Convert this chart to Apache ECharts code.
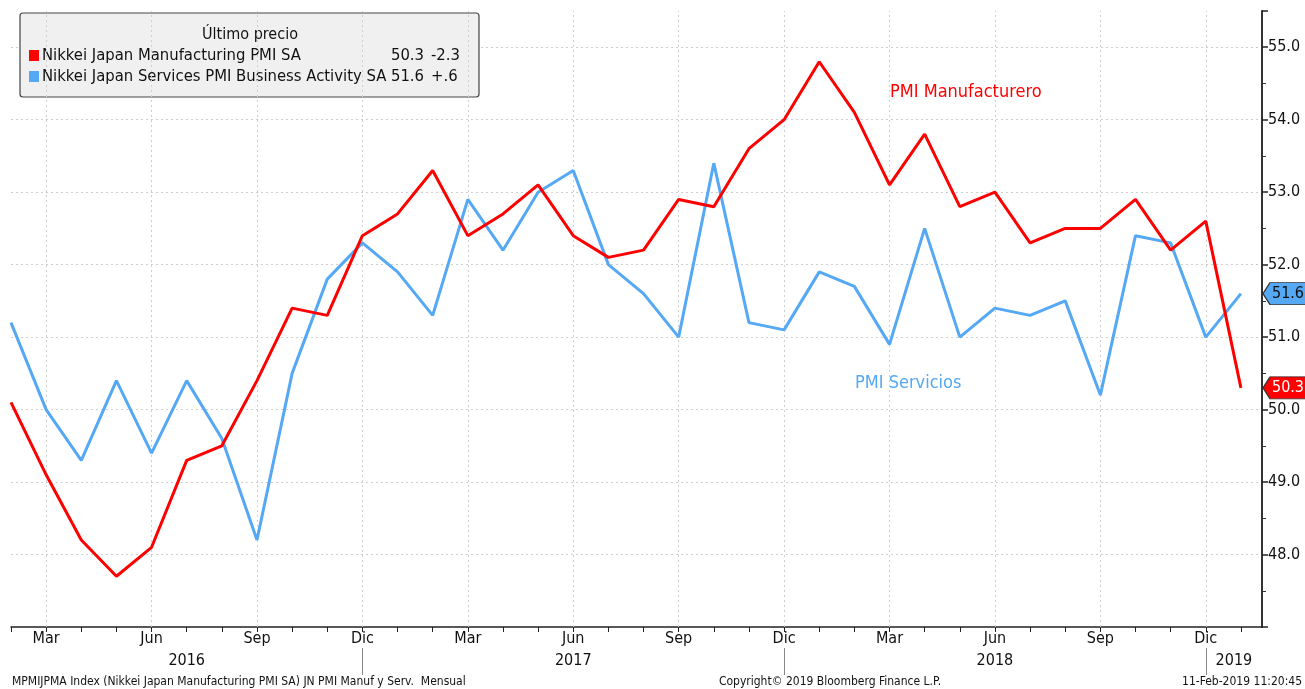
<!DOCTYPE html>
<html><head><meta charset="utf-8">
<script src="https://cdn.jsdelivr.net/npm/echarts@6/dist/echarts.min.js"></script>
<style>html,body{margin:0;padding:0;background:#fff}#c{width:1305px;height:689px}</style>
</head><body><div id="c"></div>
<script>
// ---- data ----
const categories = [
  'Feb 2016','Mar 2016','Abr 2016','May 2016','Jun 2016','Jul 2016','Ago 2016','Sep 2016','Oct 2016','Nov 2016','Dic 2016',
  'Ene 2017','Feb 2017','Mar 2017','Abr 2017','May 2017','Jun 2017','Jul 2017','Ago 2017','Sep 2017','Oct 2017','Nov 2017','Dic 2017',
  'Ene 2018','Feb 2018','Mar 2018','Abr 2018','May 2018','Jun 2018','Jul 2018','Ago 2018','Sep 2018','Oct 2018','Nov 2018','Dic 2018',
  'Ene 2019'
];
const manufacturing = [
  50.1, 49.1, 48.2, 47.7, 48.1, 49.3, 49.5, 50.4, 51.4, 51.3, 52.4,
  52.7, 53.3, 52.4, 52.7, 53.1, 52.4, 52.1, 52.2, 52.9, 52.8, 53.6, 54.0,
  54.8, 54.1, 53.1, 53.8, 52.8, 53.0, 52.3, 52.5, 52.5, 52.9, 52.2, 52.6,
  50.3
];
const services = [
  51.2, 50.0, 49.3, 50.4, 49.4, 50.4, 49.6, 48.2, 50.5, 51.8, 52.3,
  51.9, 51.3, 52.9, 52.2, 53.0, 53.3, 52.0, 51.6, 51.0, 53.4, 51.2, 51.1,
  51.9, 51.7, 50.9, 52.5, 51.0, 51.4, 51.3, 51.5, 50.2, 52.4, 52.3, 51.0,
  51.6
];
const seriesNames = ['Nikkei Japan Manufacturing PMI SA', 'Nikkei Japan Services PMI Business Activity SA'];
const quarterMonths = ['Mar', 'Jun', 'Sep', 'Dic'];
const yearLabels = ['2016', '2017', '2018', '2019'];
const legendTitle = 'Último precio';
const annotations = ['PMI Manufacturero', 'PMI Servicios'];
const footerLeft = 'MPMIJPMA Index (Nikkei Japan Manufacturing PMI SA) JN PMI Manuf y Serv.  Mensual';
const footerCenter = 'Copyright© 2019 Bloomberg Finance L.P.';
const footerRight = '11-Feb-2019 11:20:45';

// ---- styling ----
const RED = '#ff0000', BLUE = '#55a8f4';
const FONT = '"DejaVu Sans Condensed","Liberation Sans Narrow","DejaVu Sans",sans-serif';
const X_MAX = categories.length - 1 + 0.6;
const Y_MIN = 47, Y_MAX = 55.5;

function fmtChange(d) {
  let s = Math.abs(d).toFixed(1);
  if (s.startsWith('0')) s = s.slice(1);
  return (d >= 0 ? '+' : '-') + s;
}
const last = arr => arr[arr.length - 1];
const prev = arr => arr[arr.length - 2];

const tagPath = 'path://M0,11 L7,0 L44,0 L44,22 L7,22 Z';
function tag(arr, fill, txt) {
  return {
    silent: true, z: 10,
    symbol: tagPath, symbolSize: [44, 22], symbolKeepAspect: false,
    symbolOffset: [23, 0],
    itemStyle: { color: fill, borderColor: '#333', borderWidth: 1 },
    label: { show: true, position: 'inside', offset: [3, 0], color: txt, fontFamily: FONT, fontSize: 16,
             formatter: () => last(arr).toFixed(1) },
    data: [{ coord: [X_MAX, last(arr)] }]
  };
}

const quarterIdx = categories.map((c, i) => quarterMonths.includes(c.split(' ')[0]) ? i : -1).filter(i => i >= 0);

const chart = echarts.init(document.getElementById('c'));
chart.setOption({
  backgroundColor: '#fff',
  animation: false,
  grid: { left: 11, right: 43, top: 11, bottom: 62, containLabel: false },
  xAxis: {
    type: 'value', min: 0, max: X_MAX, interval: 1,
    axisLine: { show: true, onZero: false, lineStyle: { color: '#222', width: 1.5 } },
    axisTick: { show: true, length: 5, lineStyle: { color: '#222' } },
    splitLine: { show: false },
    axisLabel: {
      show: true, margin: 4, color: '#111', fontFamily: FONT, fontSize: 16,
      showMaxLabel: false,
      formatter: v => {
        if (!Number.isInteger(v) || !categories[v]) return '';
        const m = categories[v].split(' ')[0];
        return quarterMonths.includes(m) ? m : '';
      }
    }
  },
  yAxis: {
    type: 'value', position: 'right', min: Y_MIN, max: Y_MAX, interval: 1,
    axisLine: { show: true, onZero: false, lineStyle: { color: '#333', width: 2 } },
    axisTick: { show: true, length: 6, lineStyle: { color: '#222', width: 1.5 } },
    minorTick: { show: true, splitNumber: 2, length: 4, lineStyle: { color: '#333' } },
    splitLine: { show: true, showMaxLine: false, showMinLine: false, lineStyle: { color: '#cfcfcf', type: [2, 3], width: 1 } },
    axisLabel: {
      show: true, margin: 6, color: '#111', fontFamily: FONT, fontSize: 16,
      showMinLabel: false, showMaxLabel: false,
      formatter: v => Number.isInteger(v) ? v.toFixed(1) : ''
    }
  },
  series: [
    {
      type: 'line', name: 'grid', data: [], z: 1,
      markLine: {
        silent: true, symbol: 'none', z: 1, animation: false,
        label: { show: false },
        lineStyle: { color: '#cfcfcf', type: [2, 3], width: 1 },
        data: quarterIdx.map(i => ({ xAxis: i }))
      }
    },
    {
      type: 'line', name: seriesNames[1], z: 3,
      data: services.map((v, i) => [i, v]),
      symbol: 'none', lineStyle: { color: BLUE, width: 3 }, itemStyle: { color: BLUE },
      markPoint: tag(services, BLUE, '#111')
    },
    {
      type: 'line', name: seriesNames[0], z: 4,
      data: manufacturing.map((v, i) => [i, v]),
      symbol: 'none', lineStyle: { color: RED, width: 3 }, itemStyle: { color: RED },
      markPoint: tag(manufacturing, RED, '#fff')
    }
  ]
});

// ---- overlay: year labels, separators, legend box, annotations, footer ----
const px = i => chart.convertToPixel({ xAxisIndex: 0 }, i);
const decIdx = categories.map((c, i) => c.startsWith('Dic') ? i : -1).filter(i => i >= 0);
const bounds = [0].concat(decIdx, [X_MAX]);
const elements = [];
decIdx.forEach(i => {
  const x = Math.round(px(i)) + 0.5;
  elements.push({ type: 'line', shape: { x1: x, y1: 648, x2: x, y2: 675 }, style: { stroke: '#888', lineWidth: 1 } });
});
yearLabels.forEach((y, k) => {
  const cx = (px(bounds[k]) + px(bounds[k + 1])) / 2;
  elements.push({ type: 'text', x: cx, y: 661, style: { text: y, fill: '#111', font: '16px ' + FONT, align: 'center', verticalAlign: 'middle' } });
});

// legend box
const lx = 20, ly = 13;
const legendChildren = [
  { type: 'rect', shape: { x: lx, y: ly, width: 459, height: 84, r: 3 }, style: { fill: '#f0f0f0', stroke: '#444', lineWidth: 1.2 } },
  { type: 'text', x: 250, y: 35, style: { text: legendTitle, fill: '#111', font: '16px ' + FONT, align: 'center', verticalAlign: 'middle' } }
];
[[manufacturing, RED, 56], [services, BLUE, 77]].forEach(([arr, col, yy], k) => {
  legendChildren.push(
    { type: 'rect', shape: { x: 29, y: yy - 6, width: 10, height: 11 }, style: { fill: col } },
    { type: 'text', x: 42, y: yy, style: { text: seriesNames[k], fill: '#111', font: '16.5px ' + FONT, align: 'left', verticalAlign: 'middle' } },
    { type: 'text', x: 424, y: yy, style: { text: last(arr).toFixed(1), fill: '#111', font: '16.5px ' + FONT, align: 'right', verticalAlign: 'middle' } },
    { type: 'text', x: 431, y: yy, style: { text: fmtChange(last(arr) - prev(arr)), fill: '#111', font: '16.5px ' + FONT, align: 'left', verticalAlign: 'middle' } }
  );
});
elements.push({ type: 'group', z: 100, children: legendChildren });

elements.push(
  { type: 'text', x: 890, y: 92, z: 50, style: { text: annotations[0], fill: RED, font: '18px ' + FONT, align: 'left', verticalAlign: 'middle' } },
  { type: 'text', x: 855, y: 383, z: 50, style: { text: annotations[1], fill: BLUE, font: '18px ' + FONT, align: 'left', verticalAlign: 'middle' } },
  { type: 'text', x: 12, y: 682, style: { text: footerLeft, fill: '#111', font: '12px ' + FONT, align: 'left', verticalAlign: 'middle' } },
  { type: 'text', x: 830, y: 682, style: { text: footerCenter, fill: '#111', font: '12px ' + FONT, align: 'center', verticalAlign: 'middle' } },
  { type: 'text', x: 1302, y: 682, style: { text: footerRight, fill: '#111', font: '12px ' + FONT, align: 'right', verticalAlign: 'middle' } }
);
chart.setOption({ graphic: elements });
</script>
</body></html>
